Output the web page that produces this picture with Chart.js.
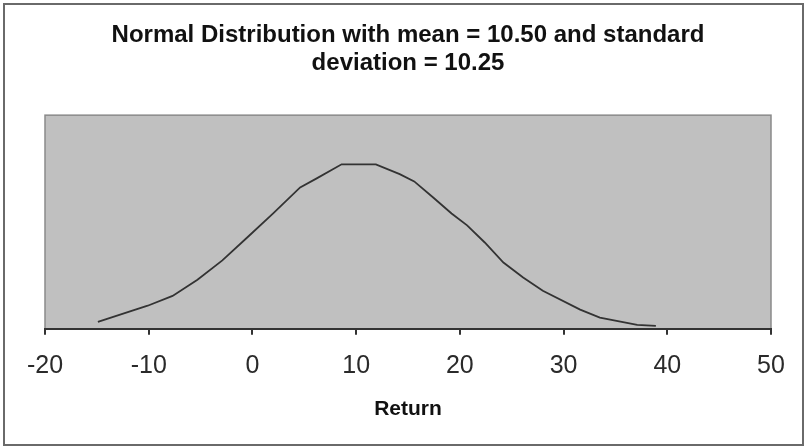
<!DOCTYPE html>
<html>
<head>
<meta charset="utf-8">
<script src="https://cdn.jsdelivr.net/npm/chart.js@4"></script>
<style>
  html, body { margin: 0; padding: 0; background: #fff; }
  #wrap { width: 806px; height: 448px; }
</style>
</head>
<body>
<div id="wrap"><canvas id="c" width="806" height="448"></canvas></div>
<script>
// Values
const returns = [-14.9, -10.1, -7.7, -5.3, -2.9, -0.4, 2.0, 4.6, 6.2, 8.6, 11.9, 14.2, 15.6, 17.4, 19.2, 20.7, 22.4, 24.2, 26.1, 28.0, 31.6, 33.5, 37.1, 38.9];
const density = [0.0016, 0.0054, 0.0077, 0.0115, 0.0160, 0.0216, 0.0270, 0.0331, 0.0352, 0.0385, 0.0385, 0.0362, 0.0345, 0.0308, 0.0270, 0.0242, 0.0202, 0.0155, 0.0120, 0.0089, 0.0045, 0.0026, 0.0009, 0.0007];
const xTicks = [-20, -10, 0, 10, 20, 30, 40, 50];
const titleLines = ['Normal Distribution with mean = 10.50 and standard', 'deviation = 10.25'];
const xTitle = 'Return';

const points = returns.map((x, i) => ({ x: x, y: density[i] }));

const frame = {
  id: 'frame',
  beforeDraw(chart) {
    const ctx = chart.ctx;
    ctx.save();
    ctx.fillStyle = '#ffffff';
    ctx.fillRect(0, 0, chart.width, chart.height);
    ctx.strokeStyle = '#6a6a6a';
    ctx.lineWidth = 2;
    ctx.strokeRect(4, 4, chart.width - 7, chart.height - 7);
    const a = chart.chartArea;
    ctx.fillStyle = '#c0c0c0';
    ctx.fillRect(a.left, a.top, a.right - a.left, a.bottom - a.top);
    ctx.strokeStyle = '#8a8a8a';
    ctx.lineWidth = 1.5;
    ctx.strokeRect(a.left, a.top, a.right - a.left, a.bottom - a.top);
    ctx.restore();
  }
};

new Chart(document.getElementById('c'), {
  type: 'scatter',
  data: {
    datasets: [{
      data: points,
      showLine: true,
      borderColor: '#333333',
      borderWidth: 1.8,
      pointRadius: 0,
      tension: 0,
      fill: false
    }]
  },
  options: {
    responsive: false,
    animation: false,
    devicePixelRatio: 1,
    layout: { padding: { left: 45, right: 35, top: 0, bottom: 26 } },
    plugins: {
      legend: { display: false },
      tooltip: { enabled: false },
      title: {
        display: true,
        text: titleLines,
        color: '#111111',
        font: { family: 'Arial, "Liberation Sans", sans-serif', size: 24, weight: 'bold', lineHeight: 1.17 },
        padding: { top: 21, bottom: 38 }
      }
    },
    scales: {
      x: {
        type: 'linear',
        min: -20,
        max: 50,
        afterBuildTicks(scale) { scale.ticks = xTicks.map(v => ({ value: v })); },
        ticks: {
          color: '#2a2a2a',
          font: { family: 'Arial, "Liberation Sans", sans-serif', size: 25 },
          padding: 16,
          maxRotation: 0,
          autoSkip: false
        },
        grid: {
          drawOnChartArea: false,
          drawTicks: true,
          tickLength: 6,
          color: '#333333',
          lineWidth: 2
        },
        border: { display: true, color: '#333333', width: 2 },
        title: {
          display: true,
          text: xTitle,
          color: '#111111',
          font: { family: 'Arial, "Liberation Sans", sans-serif', size: 21, weight: 'bold' },
          padding: { top: 0, bottom: 0 }
        }
      },
      y: {
        display: false,
        min: 0,
        max: 0.05
      }
    }
  },
  plugins: [frame]
});
</script>
</body>
</html>
